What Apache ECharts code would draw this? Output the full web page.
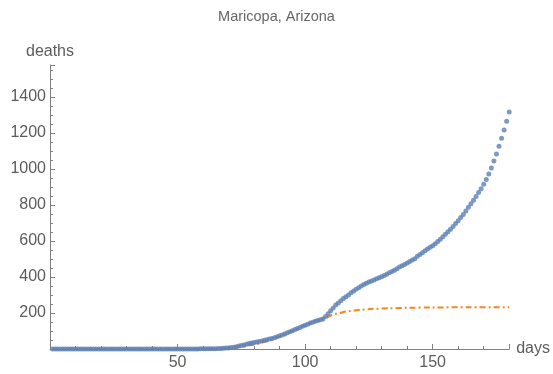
<!DOCTYPE html>
<html>
<head>
<meta charset="utf-8">
<script src="https://cdn.jsdelivr.net/npm/echarts@6/dist/echarts.min.js"></script>
<style>
	html, body { margin: 0; padding: 0; background: #fff; }
	#chart { width: 553px; height: 374px; }
</style>
</head>
<body>
<div id="chart"></div>
<script>
// daily reported deaths, day 1 .. 180
var deaths = [
	0,0,0,0,0,0,0,0,0,0, 0,0,0,0,0,0,0,0,0,0,
	0,0,0,0,0,0,0,0,0,0, 0,0,0,0,0,0,0,0,0,0,
	0,0,0,0,0,0,0,0,0,0, 0,0,0,0,0,0,0,0,1,1,
	1,1,2,2,2,3,3,4,5,6,
	8,10,13,16,19,22,26,30,33,36,
	39,42,45,48,51,55,59,63,68,73,
	78,84,90,96,102,108,114,120,126,132,
	138,144,149,154,159,163,167,180,196,212,
	228,244,256,268,280,290,300,312,322,332,
	341,350,358,365,372,378,384,390,396,402,
	409,416,423,430,438,446,455,463,470,478,
	486,494,502,515,525,535,546,556,565,574,
	585,597,610,624,638,652,666,681,697,713,
	730,748,767,787,807,827,848,869,891,915,
	942,972,1006,1044,1084,1127,1171,1217,1266,1317
];

// fitted model curve (read at a few days)
var fitDays = [1, 50, 60, 65, 70, 75, 80, 85, 90, 95, 100, 105, 108, 112, 117, 122, 127, 133, 140, 150, 165, 180];
var fitValues = [0, 0, 1, 2, 5, 12, 24, 42, 68, 98, 130, 158, 174, 196, 210, 218, 223, 226, 229, 231, 232, 232];

var titleText = 'Maricopa, Arizona';
var xName = 'days';
var yName = 'deaths';

var font = 'Liberation Sans, Arial, sans-serif';
var labelColor = '#5c5c5c';
var axisColor = '#808080';

function pairs(xs, ys) {
	var out = [];
	for (var i = 0; i < ys.length; i++) {
		out.push([xs ? xs[i] : i + 1, ys[i]]);
	}
	return out;
}

var chart = echarts.init(document.getElementById('chart'), null, { renderer: 'canvas' });

chart.setOption({
	animation: false,
	title: {
		text: titleText,
		left: 'center',
		top: 4,
		textStyle: {
			color: '#666',
			fontSize: 14.5,
			fontWeight: 'normal',
			fontFamily: font
		}
	},
	grid: {
		left: 50,
		right: 42,
		top: 65,
		bottom: 25
	},
	xAxis: {
		type: 'value',
		min: 0,
		max: 180,
		interval: 50,
		name: xName,
		nameLocation: 'end',
		nameGap: 7,
		nameTextStyle: { color: labelColor, fontSize: 16, fontFamily: font, verticalAlign: 'middle' },
		splitLine: { show: false },
		axisLine: { onZero: false, lineStyle: { color: axisColor, width: 1 } },
		axisTick: { inside: true, length: 5, lineStyle: { color: axisColor } },
		minorTick: { show: true, splitNumber: 5, length: 3, lineStyle: { color: axisColor } },
		axisLabel: {
			color: labelColor,
			fontSize: 16,
			fontFamily: font,
			margin: 6,
			showMinLabel: false,
			showMaxLabel: false,
			formatter: function (v) { return String(v); }
		}
	},
	yAxis: {
		type: 'value',
		min: 0,
		max: 1578,
		interval: 200,
		name: yName,
		nameLocation: 'end',
		nameGap: 5,
		nameTextStyle: { color: labelColor, fontSize: 16, fontFamily: font, align: 'center' },
		splitLine: { show: false },
		axisLine: { show: true, onZero: false, lineStyle: { color: axisColor, width: 1 } },
		axisTick: { show: true, inside: true, length: 5, lineStyle: { color: axisColor } },
		minorTick: { show: true, splitNumber: 4, length: 3, lineStyle: { color: axisColor } },
		axisLabel: {
			color: labelColor,
			fontSize: 16,
			fontFamily: font,
			margin: 4,
			showMinLabel: false,
			showMaxLabel: false,
			formatter: function (v) { return String(v); }
		}
	},
	series: [{
			type: 'line',
			name: 'fit',
			data: pairs(fitDays, fitValues),
			showSymbol: false,
			smooth: 0.3,
			smoothMonotone: 'x',
			z: 2,
			lineStyle: {
				color: '#f7871c',
				width: 2,
				type: [6, 3, 2, 3]
			}
		}, {
			type: 'scatter',
			name: 'deaths',
			data: pairs(null, deaths),
			symbol: 'circle',
			symbolSize: 5,
			clip: false,
			z: 3,
			itemStyle: {
				color: '#5e81b5'
			}
		}
	]
});
</script>
</body>
</html>
